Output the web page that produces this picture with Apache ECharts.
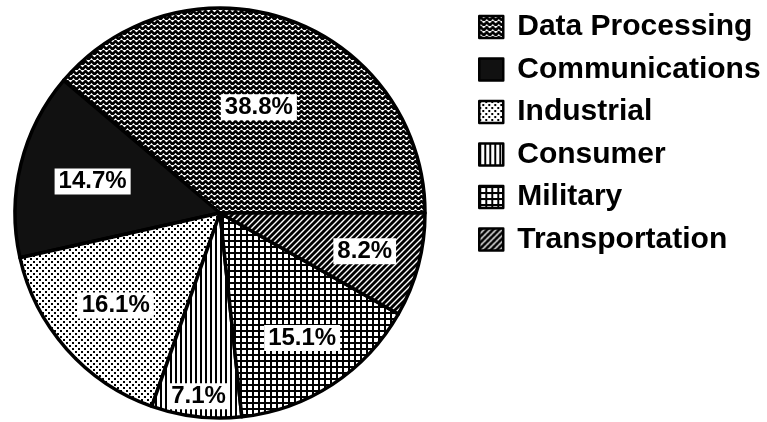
<!DOCTYPE html>
<html>
<head>
<meta charset="utf-8">
<script src="https://cdn.jsdelivr.net/npm/echarts@6/dist/echarts.min.js"></script>
<style>
  html, body { margin: 0; padding: 0; background: #fff; }
  #chart { width: 767px; height: 422px; }
</style>
</head>
<body>
<div id="chart"></div>
<script>
// ---- data ----
var categories = ['Data Processing', 'Communications', 'Industrial', 'Consumer', 'Military', 'Transportation'];
var shares = [38.8, 14.7, 16.1, 7.1, 15.1, 8.2];

// ---- styles ----
var labelRadiusFrac = [0.55, 0.64, 0.68, 0.90, 0.73, 0.73];
var CX = 220, CY = 213, R = 205;

function makeTile(w, h, draw) {
  var c = document.createElement('canvas');
  c.width = w; c.height = h;
  var g = c.getContext('2d');
  draw(g, w, h);
  return { image: c, repeat: 'repeat' };
}
var patterns = [
  // zigzag
  makeTile(6, 5, function (g, w, h) {
    g.fillStyle = '#fff'; g.fillRect(0, 0, w, h);
    g.strokeStyle = '#000'; g.lineWidth = 2.6;
    g.beginPath(); g.moveTo(-1.5, 4.5); g.lineTo(1.5, 1); g.lineTo(4.5, 4.5); g.lineTo(7.5, 1); g.stroke();
  }),
  // solid black
  '#111',
  // fine dots
  makeTile(6, 6, function (g, w, h) {
    g.fillStyle = '#fff'; g.fillRect(0, 0, w, h);
    g.fillStyle = '#000';
    g.fillRect(0, 0, 2, 2); g.fillRect(3, 3, 2, 2);
  }),
  // vertical stripes
  makeTile(5, 5, function (g, w, h) {
    g.fillStyle = '#fff'; g.fillRect(0, 0, w, h);
    g.fillStyle = '#000'; g.fillRect(0, 0, 2, h);
  }),
  // grid
  makeTile(6, 6, function (g, w, h) {
    g.fillStyle = '#000'; g.fillRect(0, 0, w, h);
    g.fillStyle = '#fff'; g.fillRect(2, 2, 4, 4);
  }),
  // diagonal stripes
  makeTile(6, 6, function (g, w, h) {
    g.fillStyle = '#000'; g.fillRect(0, 0, w, h);
    g.strokeStyle = '#fff'; g.lineWidth = 1.4;
    g.beginPath();
    g.moveTo(-1, 7); g.lineTo(7, -1);
    g.moveTo(-4, 4); g.lineTo(4, -4);
    g.moveTo(2, 10); g.lineTo(10, 2);
    g.stroke();
  })
];

var total = shares.reduce(function (a, b) { return a + b; }, 0);
var cum = [];
(function () { var s = 0; shares.forEach(function (v) { cum.push(s); s += v; }); })();

var chart = echarts.init(document.getElementById('chart'));
chart.setOption({
  animation: false,
  backgroundColor: '#fff',
  legend: {
    data: categories,
    orient: 'vertical',
    left: 473,
    top: 7,
    icon: 'rect',
    itemWidth: 24,
    itemHeight: 22,
    itemGap: 12.5,
    itemStyle: { borderColor: '#000', borderWidth: 2.5 },
    textStyle: {
      fontFamily: 'Liberation Sans, Arial, sans-serif',
      fontWeight: 'bold',
      fontSize: 30,
      lineHeight: 30,
      color: '#000',
      padding: [0, 0, 0, 9]
    },
    selectedMode: false
  },
  series: [{
    type: 'pie',
    center: [CX, CY],
    radius: R,
    startAngle: 0,
    clockwise: false,
    silent: true,
    itemStyle: { borderColor: '#000', borderWidth: 3.5 },
    label: {
      show: true,
      position: 'inside',
      formatter: function (p) { return shares[p.dataIndex].toFixed(1) + '%'; },
      backgroundColor: '#fff',
      padding: [2, 4, 0, 4],
      color: '#000',
      fontFamily: 'Liberation Sans, Arial, sans-serif',
      fontWeight: 'bold',
      fontSize: 24
    },
    labelLayout: function (p) {
      var i = p.dataIndex;
      var mid = (cum[i] + shares[i] / 2) / total * 2 * Math.PI;
      var r = R * labelRadiusFrac[i];
      return {
        x: CX + Math.cos(mid) * r,
        y: CY - Math.sin(mid) * r,
        align: 'center',
        verticalAlign: 'middle'
      };
    },
    data: categories.map(function (name, i) {
      return { name: name, value: shares[i], itemStyle: { color: patterns[i] } };
    })
  }]
});
</script>
</body>
</html>
